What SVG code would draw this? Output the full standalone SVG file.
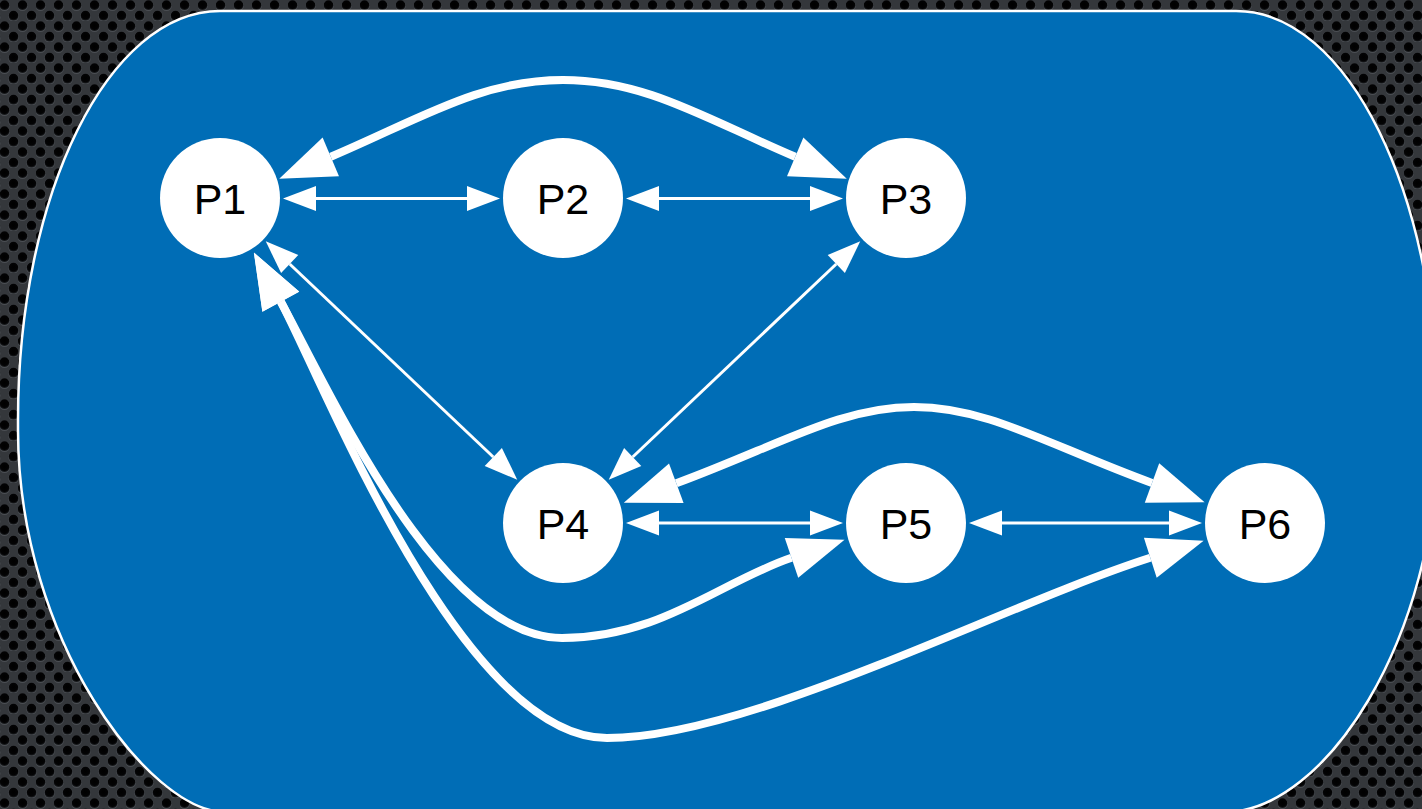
<svg xmlns="http://www.w3.org/2000/svg" width="1422" height="809" viewBox="0 0 1422 809">
  <defs>
    <!-- perforated metal backdrop -->
    <radialGradient id="hole" cx="50%" cy="42%" r="55%">
      <stop offset="0" stop-color="#000"/>
      <stop offset="0.75" stop-color="#030304"/>
      <stop offset="1" stop-color="#1c1e21"/>
    </radialGradient>
    <pattern id="mesh" width="18" height="21" patternUnits="userSpaceOnUse">
      <rect width="18" height="21" fill="#34373b"/>
      <circle cx="4.5" cy="5.8" r="5.3" fill="#4a4e53"/>
      <circle cx="13.5" cy="16.3" r="5.3" fill="#4a4e53"/>
      <circle cx="-4.5" cy="16.3" r="5.3" fill="#4a4e53"/>
      <circle cx="4.5" cy="5.2" r="4.9" fill="url(#hole)"/>
      <circle cx="13.5" cy="15.7" r="4.9" fill="url(#hole)"/>
      <circle cx="-4.5" cy="15.7" r="4.9" fill="url(#hole)"/>
    </pattern>
    <marker id="tipThin" markerUnits="userSpaceOnUse" viewBox="0 -13 34 26" markerWidth="34" markerHeight="26" refX="0" refY="0" orient="auto-start-reverse" overflow="visible">
      <path d="M0,-12.5 L33,0 L0,12.5 Z" fill="#fff"/>
    </marker>
    <marker id="tipThick" markerUnits="userSpaceOnUse" viewBox="0 -22 57 44" markerWidth="57" markerHeight="44" refX="0" refY="0" orient="auto-start-reverse" overflow="visible">
      <path d="M0,-21 L56,0 L0,21 Z" fill="#fff"/>
    </marker>
  </defs>
  <style>
    .node circle { fill: #ffffff; }
    .node text { font-family: "Liberation Sans", Arial, Helvetica, sans-serif; font-size: 43px; fill: #000; text-anchor: middle; }
    .thin { fill: none; stroke: #fff; stroke-width: 3; marker-start: url(#tipThin); marker-end: url(#tipThin); }
    .thick { fill: none; stroke: #fff; stroke-width: 8; marker-start: url(#tipThick); marker-end: url(#tipThick); }
  </style>

  <rect width="1422" height="809" fill="url(#mesh)"/>

  <!-- rounded blue panel -->
  <path id="panel" d="M220,11 L1236,11 C1347.5,11 1438,194 1438,420 L1438,430 C1438,640 1324,812 1225,812 L225,812 C150,812 18,640 18,430 L18,420 C18,194 108.5,11 220,11 Z" fill="#006DB6" stroke="#fff" stroke-width="2.5"/>

  <g id="connectors">
    <path class="thin" d="M316,198.5 L467,198.5"/>
    <path class="thin" d="M659,198.5 L810,198.5"/>
    <path class="thin" d="M659,523 L810,523"/>
    <path class="thin" d="M1002,523 L1169,523"/>
    <path class="thin" d="M289.7,264 L493.3,457"/>
    <path class="thin" d="M836.3,264 L632.7,457"/>
    <path class="thick" d="M330.8,156.8 C420,119 480,80 563,80 C646,80 706,119 795.2,156.8"/>
    <path class="thick" d="M676.3,483.3 C780,445 840,407 914,407 C988,407 1048,445 1152,483"/>
    <path class="thick" d="M280.8,301.7 C330,392 440,638 562,638 C660,638 720,582 791.5,557.8"/>
    <path class="thick" d="M280.8,301.7 C320,373 460,738 607,738 C750,738 1000,606 1150.3,557.8"/>
  </g>

  <g id="P1" class="node"><circle cx="220" cy="198" r="60"/><text x="220" y="214">P1</text></g>
  <g id="P2" class="node"><circle cx="563" cy="198" r="60"/><text x="563" y="214">P2</text></g>
  <g id="P3" class="node"><circle cx="906" cy="198" r="60"/><text x="906" y="214">P3</text></g>
  <g id="P4" class="node"><circle cx="563" cy="523" r="60"/><text x="563" y="539">P4</text></g>
  <g id="P5" class="node"><circle cx="906" cy="523" r="60"/><text x="906" y="539">P5</text></g>
  <g id="P6" class="node"><circle cx="1265" cy="523" r="60"/><text x="1265" y="539">P6</text></g>
</svg>
